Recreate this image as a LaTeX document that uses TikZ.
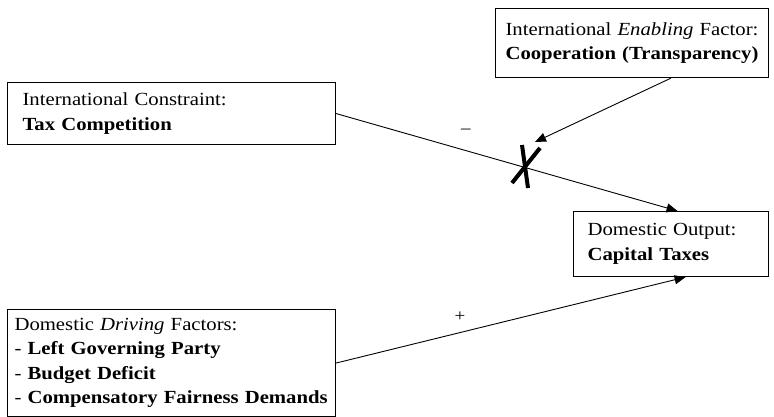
\documentclass[tikz,border=0pt]{standalone}
\usepackage{fontspec}
\setmainfont{Liberation Serif}[FakeStretch=1.12]
\usetikzlibrary{arrows.meta}
\hyphenpenalty=10000
\begin{document}
\begin{tikzpicture}[x=1pt,y=-1pt,
  box/.style={draw, line width=1.1pt, anchor=north west, align=left,
    font=\fontsize{18.5}{24.5}\selectfont, inner ysep=0pt},
  link/.style={line width=0.9pt, -{Triangle[length=11pt,width=9pt]}},
  cross/.style={line width=4pt},
  sign/.style={font=\fontsize{17}{17}\selectfont, inner sep=0pt}]
\useasboundingbox (0,0) rectangle (774,417);
\node[box, inner xsep=10pt, text width=253pt, minimum height=69pt] (b1) at (495,8)
  {International \textit{Enabling} Factor:\\\textbf{Cooperation (Transparency)}};
\node[box, inner xsep=15pt, text width=298pt, minimum height=62pt] (b2) at (7,82)
  {International Constraint:\\\textbf{Tax Competition}};
\node[box, inner xsep=14pt, text width=167pt, minimum height=65pt] (b3) at (573,211)
  {Domestic Output:\\\textbf{Capital Taxes}};
\node[box, inner xsep=7pt, text width=314pt, minimum height=107pt] (b4) at (7,309)
  {Domestic \textit{Driving} Factors:\\- \textbf{Left Governing Party}\\- \textbf{Budget Deficit}\\- \textbf{Compensatory Fairness Demands}};
\coordinate (xm) at (535,142);
\draw[link] (b2.east) -- ([xshift=6.5pt]b3.north);
\draw[link] ([xshift=39pt]b1.south) -- (xm);
\draw[link] (b4.east) -- ([xshift=14.5pt]b3.south);
\coordinate (xc) at (527,166);
\draw[cross] ([shift={(-15,17)}]xc) -- ([shift={(13,-18)}]xc);
\draw[cross] ([shift={(-5,-21)}]xc) -- ([shift={(1,22)}]xc);
\node[sign] (minus) at (466,131) {–};
\node[sign] (plus) at (460,317) {+};
\end{tikzpicture}
\end{document}
